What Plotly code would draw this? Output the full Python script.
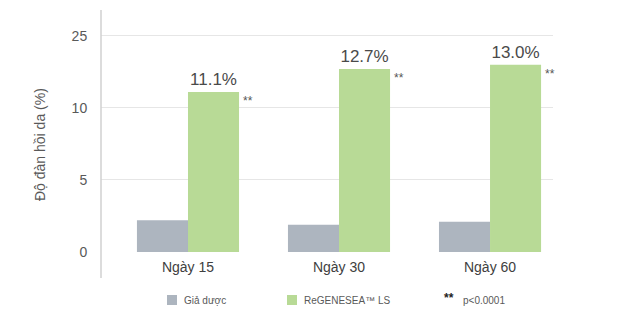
import plotly.graph_objects as go

categories = ["Ngày 15", "Ngày 30", "Ngày 60"]
placebo = [2.2, 1.9, 2.1]
regenesea = [11.1, 12.7, 13.0]
value_labels = ["11.1%", "12.7%", "13.0%"]
ytick_vals = [0, 5, 10, 15]
ytick_text = ["0", "5", "10", "25"]
series_names = ["Giả dược", "ReGENESEA™ LS"]
y_title = "Độ đàn hồi da (%)"

GRAY = "#adb5bf"
GREEN = "#b8da96"
TXT = "#595959"
FONT = "Liberation Sans, Arial, sans-serif"

xpos = list(range(len(categories)))
BARGAP = 0.324
bar_w = (1 - BARGAP) / 2

fig = go.Figure()
fig.add_trace(go.Bar(x=xpos, y=placebo, name=series_names[0],
                     marker=dict(color=GRAY, line=dict(width=0))))
fig.add_trace(go.Bar(x=xpos, y=regenesea, name=series_names[1],
                     marker=dict(color=GREEN, line=dict(width=0)),
                     text=value_labels, textposition="outside", cliponaxis=False,
                     textfont=dict(size=17, color="#4a4a4a", family=FONT)))

for i, v in zip(xpos, regenesea):
    fig.add_annotation(x=i + bar_w, y=v, xref="x", yref="y", text="**",
                       showarrow=False, xanchor="left", yanchor="top",
                       xshift=2, yshift=0, font=dict(size=12, color="#555555", family=FONT))

# y-axis line extending below zero
fig.add_shape(type="line", xref="paper", yref="paper", x0=0, x1=0,
              y0=-26 / 242, y1=1, line=dict(color="#d0d0d0", width=1.5))

def px_to_paper_x(px):
    return (px - 101) / 452
def px_to_paper_y(py):
    return (252 - py) / 242

# y title
fig.add_annotation(x=px_to_paper_x(40), y=px_to_paper_y(145), xref="paper", yref="paper",
                   text=y_title, textangle=-90, showarrow=False,
                   xanchor="center", yanchor="middle",
                   font=dict(size=14, color=TXT, family=FONT))

# legend (manual)
legend_y = 300
for x0, col, label in [(167, GRAY, series_names[0]), (287, GREEN, series_names[1])]:
    fig.add_shape(type="rect", xref="paper", yref="paper",
                  x0=px_to_paper_x(x0), x1=px_to_paper_x(x0 + 10),
                  y0=px_to_paper_y(305), y1=px_to_paper_y(295),
                  fillcolor=col, line=dict(width=0))
    fig.add_annotation(x=px_to_paper_x(x0 + 15), y=px_to_paper_y(legend_y), xref="paper", yref="paper",
                       text=label, showarrow=False, xanchor="left", yanchor="middle",
                       font=dict(size=10, color=TXT, family=FONT))
fig.add_annotation(x=px_to_paper_x(442), y=px_to_paper_y(298), xref="paper", yref="paper",
                   text="<b>**</b>", showarrow=False, xanchor="left", yanchor="middle",
                   font=dict(size=12, color="#222222", family=FONT))
fig.add_annotation(x=px_to_paper_x(461), y=px_to_paper_y(legend_y), xref="paper", yref="paper",
                   text="p<0.0001", showarrow=False, xanchor="left", yanchor="middle",
                   font=dict(size=10, color=TXT, family=FONT))

fig.update_layout(
    width=640, height=322,
    margin=dict(l=101, r=87, t=10, b=70),
    paper_bgcolor="white", plot_bgcolor="white",
    barmode="group", bargap=BARGAP, bargroupgap=0,
    showlegend=False,
    font=dict(family=FONT, color=TXT),
)
fig.update_xaxes(range=[-0.576, 2.417], tickvals=xpos, ticktext=categories,
                 showgrid=False, zeroline=False, showline=False,
                 ticks="outside", ticklen=2, tickcolor="rgba(0,0,0,0)",
                 tickfont=dict(size=14, color="#404040", family=FONT))
fig.update_yaxes(range=[0, 16.8], tickvals=ytick_vals, ticktext=ytick_text,
                 showgrid=True, gridcolor="#e6e6e6", gridwidth=1, zeroline=False,
                 showline=False, ticks="outside", ticklen=10, tickcolor="rgba(0,0,0,0)",
                 tickfont=dict(size=14, color=TXT, family=FONT))

fig.write_html("out.html")
